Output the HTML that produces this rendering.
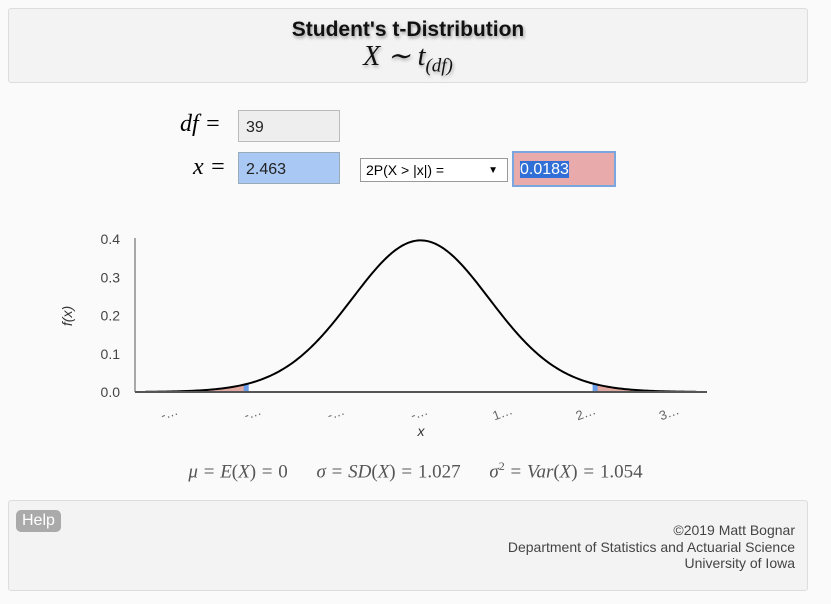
<!DOCTYPE html>
<html><head><meta charset="utf-8"><style>
body{margin:0;width:831px;height:604px;background:#fafafa;font-family:"Liberation Sans",sans-serif;position:relative;overflow:hidden}
.box{position:absolute;left:8px;width:798px;background:#f3f3f3;border:1px solid #ddd;border-radius:3px}
.math{font-family:"Liberation Serif",serif;font-style:italic}
.inp{position:absolute;height:32px;box-sizing:border-box;border:1px solid #aaa;font-size:16px;padding:6px 7px;color:#222}
</style></head><body>
<div class="box" style="top:8px;height:73px">
 <div style="position:absolute;top:9px;width:100%;text-align:center;font-weight:bold;font-size:21px;color:#111;text-shadow:1px 2px 3px #999">Student's t-Distribution</div>
 <div class="math" style="position:absolute;top:30px;width:100%;text-align:center;font-size:28px;color:#111;text-shadow:1px 2px 3px #aaa">X ∼ t<sub style="font-size:19px">(df)</sub></div>
</div>
<div class="math" style="position:absolute;left:180px;top:111px;font-size:24px">df =</div>
<div class="inp" style="left:238px;top:110px;width:102px;background:#eee;border-color:#bbb;padding-top:8px">39</div>
<div class="math" style="position:absolute;left:193px;top:154px;font-size:24px">x =</div>
<div class="inp" style="left:238px;top:152px;width:102px;background:#aac8f4;border-color:#9ab;padding-top:8px">2.463</div>
<div style="position:absolute;left:360px;top:158px;width:148px;height:24px;box-sizing:border-box;border:1px solid #999;background:#fff;font-size:14px;padding:3px 5px">2P(X &gt; |x|) =<span style="position:absolute;right:9px;font-size:10px;top:6px">▼</span></div>
<div class="inp" style="left:512px;top:151px;width:104px;height:36px;background:#e8aaaa;border:2px solid #7aa6e0;padding:8px 6px"><span style="background:#2f6fd6;color:#fff">0.0183</span></div>

<svg id="chart" width="831" height="604" style="position:absolute;left:0;top:0"></svg>

<div class="math" style="position:absolute;left:0;width:831px;top:459px;text-align:center;font-size:19px;color:#555;font-style:normal;word-spacing:1px">
<i>μ</i> = <i>E</i>(<i>X</i>) = 0 &nbsp;&nbsp;&nbsp; <i>σ</i> = <i>SD</i>(<i>X</i>) = 1.027 &nbsp;&nbsp;&nbsp; <i>σ</i><sup style="font-size:12px">2</sup> = <i>Var</i>(<i>X</i>) = 1.054</div>

<div class="box" style="top:500px;height:89px">
 <div style="position:absolute;left:7px;top:9px;background:#aaa;color:#fff;border-radius:5px;padding:2px 6px;font-size:16px">Help</div>
 <div style="position:absolute;right:12px;top:21px;text-align:right;font-size:14px;color:#444;line-height:16.5px">©2019 Matt Bognar<br>Department of Statistics and Actuarial Science<br>University of Iowa</div>
</div>
<script>
const df = [39];
const xValue = [2.463];
const xDomain = [-4.08, 4.09];
const yTicks = [0, 0.1, 0.2, 0.3, 0.4];
const yTickLabels = ["0.0","0.1","0.2","0.3","0.4"];
const xTicks = [-3.57, -2.38, -1.19, 0, 1.19, 2.38, 3.57];
const xTickLabels = ["-…","-…","-…","-…","1…","2…","3…"];

const NS="http://www.w3.org/2000/svg", svg=document.getElementById('chart');
const X0=135,X1=707,Y0=392,Y1=239;
const sx=v=>X0+(v-xDomain[0])/(xDomain[1]-xDomain[0])*(X1-X0);
const sy=v=>Y0-v/0.4*(Y0-Y1);
function lgamma(z){const g=[76.18009172947146,-86.50532032941677,24.01409824083091,-1.231739572450155,0.1208650973866179e-2,-0.5395239384953e-5];let x=z,y=z,t=x+5.5;t-=(x+0.5)*Math.log(t);let s=1.000000000190015;for(const c of g)s+=c/++y;return -t+Math.log(2.5066282746310005*s/x);}
const n=df[0];
const C=Math.exp(lgamma((n+1)/2)-lgamma(n/2))/Math.sqrt(n*Math.PI);
const pdf=t=>C*Math.pow(1+t*t/n,-(n+1)/2);
function mk(tag,attrs,name){const e=document.createElementNS(NS,tag);for(const k in attrs)e.setAttribute(k,attrs[k]);


svg.appendChild(e);return e;}
const xv=xValue[0];
function area(a,b,name){let d=`M${sx(a)},${sy(0)}`;for(let i=0;i<=80;i++){const t=a+(b-a)*i/80;d+=`L${sx(t)},${sy(pdf(t))}`;}d+=`L${sx(b)},${sy(0)}Z`;mk('path',{d,fill:'#e0a8a0'},name);}
area(xDomain[0]+0.15,-xv,'left-tail-area');area(xv,xDomain[1]-0.15,'right-tail-area');
mk('line',{x1:sx(-xv)-2,x2:sx(-xv)-2,y1:sy(0),y2:sy(pdf(xv)),stroke:'#6a9de8','stroke-width':5},'left-x-marker');
mk('line',{x1:sx(xv)+2,x2:sx(xv)+2,y1:sy(0),y2:sy(pdf(xv)),stroke:'#6a9de8','stroke-width':5},'right-x-marker');
let d='';for(let i=0;i<=300;i++){const t=xDomain[0]+0.15+(xDomain[1]-xDomain[0]-0.3)*i/300;d+=(i?'L':'M')+sx(t)+','+sy(pdf(t));}
mk('path',{d,fill:'none',stroke:'#000','stroke-width':2},'density-curve');
mk('line',{x1:X0,x2:X0,y1:Y1-1,y2:Y0,stroke:'#555','stroke-width':1},'y-axis');
mk('line',{x1:X0,x2:X1,y1:Y0,y2:Y0,stroke:'#555','stroke-width':2},'x-axis');
yTicks.forEach((v,i)=>{const t=mk('text',{x:120,y:sy(v)+5,'text-anchor':'end','font-size':14,fill:'#444','font-family':'Liberation Sans'},'y-tick-label');t.textContent=yTickLabels[i];});
xTicks.forEach((v,i)=>{const x=sx(v),y=417;const t=mk('text',{x,y,'text-anchor':'middle','font-size':13,fill:'#666','font-family':'Liberation Sans',transform:`rotate(-20 ${x} ${y})`},'x-tick-label');t.textContent=xTickLabels[i];});
const xl=mk('text',{x:421,y:436,'text-anchor':'middle','font-size':14,fill:'#333','font-style':'italic','font-family':'Liberation Sans'},'x-axis-title');xl.textContent='x';
const yl=mk('text',{x:72,y:316,'text-anchor':'middle','font-size':14,fill:'#333','font-style':'italic','font-family':'Liberation Sans',transform:'rotate(-90 72 316)'},'y-axis-title');yl.textContent='f(x)';
</script>
</body></html>
